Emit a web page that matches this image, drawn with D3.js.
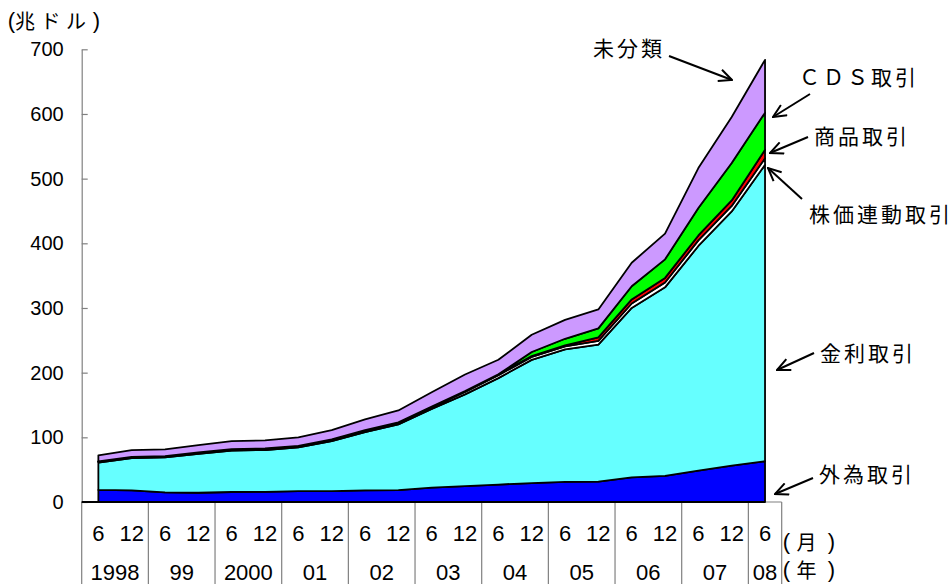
<!DOCTYPE html>
<html><head><meta charset="utf-8">
<script src="https://cdn.jsdelivr.net/npm/d3@7/dist/d3.min.js"></script>
<style>
html,body{margin:0;padding:0;background:#fff;}
svg{display:block;}
.num{font-family:"Liberation Sans",Arial,sans-serif;}
.jp{font-family:"Noto Sans CJK JP",sans-serif;}
</style></head>
<body>
<svg id="c" width="952" height="584"></svg>
<script>
// ---- data (兆ドル), semiannual Jun 1998 – Jun 2008 ----
const periods = d3.range(21);
const monthLabels = ["6","12"];
const yearLabels = ["1998","99","2000","01","02","03","04","05","06","07","08"];
const fx    = [18.7,18.0,14.9,14.3,15.5,15.7,16.9,16.7,18.1,18.4,22.1,24.5,27.0,29.3,31.1,31.4,38.1,40.3,48.6,56.2,63.0];
const ir    = [42.4,50.0,54.1,60.1,64.1,64.7,67.5,77.6,90.0,101.7,121.8,142.0,164.6,190.5,204.8,212.0,262.0,291.6,347.3,393.1,458.3];
const eq    = [1.3,1.5,1.5,1.8,1.6,1.9,1.9,1.9,2.2,2.3,2.8,3.8,4.5,4.4,4.6,5.8,6.8,7.5,8.6,8.5,10.2];
const com   = [0.5,0.4,0.4,0.5,0.6,0.7,0.6,0.6,0.8,0.9,1.0,1.4,1.3,1.4,1.7,5.4,6.4,7.1,7.6,8.5,13.2];
const cds   = [0,0,0,0,0,0,0,0,0,0,0,0,0,6.4,10.2,13.9,20.4,28.7,42.6,57.9,57.3];
const other = [9.3,10.4,10.5,11.4,12.2,12.3,12.9,14.4,16.5,18.3,21.9,25.5,22.6,26.6,29.2,29.2,36.3,39.7,61.7,71.1,81.7];
const yTicks = [0,100,200,300,400,500,600,700];

const keys = ["fx","ir","eq","com","cds","other"];
const colors = {fx:"#0000FF",ir:"#66FFFF",eq:"#FFFFFF",com:"#FF0000",cds:"#00FF00",other:"#CC99FF"};
const table = periods.map(i => ({i, fx:fx[i], ir:ir[i], eq:eq[i], com:com[i], cds:cds[i], other:other[i]}));

const svg = d3.select("#c");
const x = d3.scaleBand().domain(periods).range([81.7, 781.7]).padding(0);
const bw = x.bandwidth();
const cx = i => x(i) + bw/2;
const y = d3.scaleLinear().domain([0,700]).range([502, 49.3]);

// x-axis table
const gx = svg.append("g");
gx.append("line").attr("x1",81.7).attr("x2",781.7).attr("y1",y(0)).attr("y2",y(0))
  .attr("stroke","#808080").attr("stroke-width",1.2);
const bounds = d3.range(0,21,2).map(i => x(i)).concat([x(20)+bw]);
gx.selectAll("line.sep").data(bounds).join("line").attr("class","sep")
  .attr("x1",d=>d).attr("x2",d=>d).attr("y1",y(0)).attr("y2",584)
  .attr("stroke","#808080").attr("stroke-width",1.2);
gx.selectAll("text.m").data(periods).join("text").attr("class","m num")
  .attr("x",i=>cx(i)).attr("y",541).attr("text-anchor","middle")
  .attr("font-size",22).text(i=>monthLabels[i%2]);
gx.selectAll("text.yr").data(yearLabels).join("text").attr("class","yr num")
  .attr("x",(d,k)=> k<10 ? x(2*k)+bw : cx(20)).attr("y",580).attr("text-anchor","middle")
  .attr("font-size",22).text(d=>d);

// y axis
const ya = d3.axisLeft(y).tickValues(yTicks).tickSizeInner(-6).tickSizeOuter(0).tickPadding(18);
const gy = svg.append("g").attr("transform","translate(81.7,0)").call(ya);
gy.select(".domain").attr("stroke","#808080").attr("stroke-width",1.2);
gy.selectAll(".tick line").attr("stroke","#808080").attr("stroke-width",1.2);
gy.selectAll(".tick text").attr("class","num").attr("font-size",20).attr("fill","#000");

// black baseline
svg.append("line").attr("x1",81.7).attr("x2",cx(20)).attr("y1",y(0)).attr("y2",y(0))
  .attr("stroke","#000").attr("stroke-width",2);

// stacked areas
const series = d3.stack().keys(keys)(table);
const area = d3.area().x(d=>cx(d.data.i)).y0(d=>y(d[0])).y1(d=>y(d[1]));
svg.append("g").selectAll("path").data(series).join("path")
  .attr("d",area).attr("fill",d=>colors[d.key])
  .attr("stroke","#000").attr("stroke-width",1.8).attr("stroke-linejoin","round");

// helper: label with separately placed glyphs (parens in Latin font)
function spaced(parts, py, size){
  parts.forEach(([c,px,isParen])=>{
    svg.append("text").attr("class", isParen ? "num" : "jp")
      .attr("font-size", isParen ? size+2 : size)
      .attr("x",px).attr("y",py).attr("text-anchor","middle")
      .attr("dominant-baseline","central").text(c);
  });
}
spaced([["(",11.5,1],["兆",25],["ド",50.5],["ル",76],[")",96.5,1]], 20, 20);
spaced([["(",786.5,1],["月",806.5],[")",831.5,1]], 541.5, 20);
spaced([["(",786.5,1],["年",806.5],[")",831.5,1]], 569, 20);

// annotations
const defs = svg.append("defs");
defs.append("marker").attr("id","ah").attr("viewBox","0 0 15 14").attr("refX",14).attr("refY",7)
  .attr("markerWidth",15).attr("markerHeight",14).attr("markerUnits","userSpaceOnUse").attr("orient","auto")
  .append("path").attr("d","M1,1 L14,7 L1,13").attr("fill","none").attr("stroke","#000").attr("stroke-width",2);
const notes = [
  {t:"未分類", tx:593, ty:47, a:[669,56,732,80]},
  {t:"ＣＤＳ取引", tx:799, ty:76, a:[810,94,773,117]},
  {t:"商品取引", tx:814, ty:135, a:[808,137,770,153]},
  {t:"株価連動取引", tx:809, ty:213, a:[802,199,768,168]},
  {t:"金利取引", tx:820, ty:352, a:[814,353,777,370]},
  {t:"外為取引", tx:819, ty:473, a:[813,478,775,494]}
];
notes.forEach(n=>{
  svg.append("text").attr("class","jp").attr("x",n.tx).attr("y",n.ty).attr("font-size",21)
    .attr("letter-spacing",3).attr("dominant-baseline","central").text(n.t);
  svg.append("line").attr("x1",n.a[0]).attr("y1",n.a[1]).attr("x2",n.a[2]).attr("y2",n.a[3])
    .attr("stroke","#000").attr("stroke-width",2).attr("marker-end","url(#ah)");
});
</script>
</body></html>
